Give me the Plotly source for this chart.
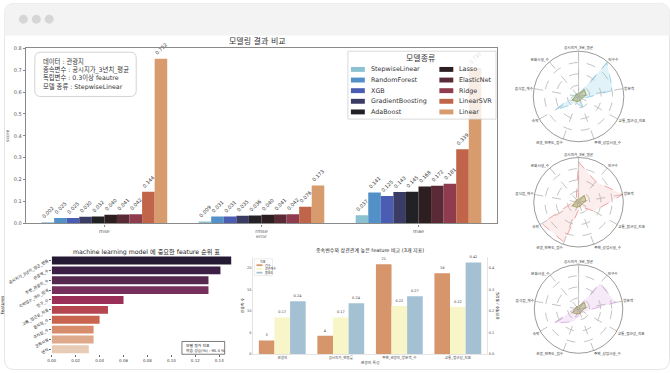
import plotly.graph_objects as go

W, H = 670, 373

# ---------------- data ----------------
models = ["StepwiseLinear", "RandomForest", "XGB", "GradientBoosting", "AdaBoost",
          "Lasso", "ElasticNet", "Ridge", "LinearSVR", "Linear"]
metrics = ["mse", "rmse", "mae"]
mse_vals = [0.002, 0.025, 0.025, 0.030, 0.032, 0.040, 0.041, 0.042, 0.144, 0.752]
rmse_vals = [0.009, 0.031, 0.031, 0.035, 0.036, 0.040, 0.041, 0.042, 0.076, 0.173]
mae_vals = [0.037, 0.141, 0.125, 0.143, 0.145, 0.168, 0.172, 0.181, 0.339, 0.710]
model_colors = ["#8bc1d0", "#5390c8", "#4b5db2", "#3b3c66", "#222226",
                "#2d1e22", "#5a2a36", "#8f3c4f", "#c0654a", "#d89b6e"]
score_ticks = [0.0, 0.1, 0.2, 0.3, 0.4, 0.5, 0.6, 0.7, 0.8]

info_lines = ["데이터 : 관광지", "종속변수 : 공시지가_3년치_평균",
              "독립변수 : 0.3이상 feautre", "모델 종류 : StepwiseLinear"]

features = ["공시지가_3년치_평균_변동", "관광객_수", "주변_관광지_수", "숙박업소_개수_합계",
            "인구_수", "교통_접근성_지표", "음식점_수", "주차장_수", "문화시설", "면적"]
importances = [0.150, 0.141, 0.131, 0.131, 0.060, 0.047, 0.040, 0.035, 0.035, 0.031]
feat_colors = ["#241a33", "#3b1f45", "#55284f", "#76305c", "#9a3058",
               "#b5454f", "#c9654f", "#d78c6b", "#dfa98c", "#e7cbb5"]
imp_ticks = [0.00, 0.02, 0.04, 0.06, 0.08, 0.10, 0.12, 0.14]

cmp_categories = ["관광지", "공시지가_변동률", "주변_관광지_방문객_수", "교통_접근성_지표"]
cmp_series = ["건수", "상관계수", "중요도"]
cmp_count = [3.2, 4.3, 20.8, 18.7]
cmp_corr = [0.170, 0.170, 0.223, 0.218]
cmp_imp = [0.245, 0.236, 0.268, 0.424]
cmp_colors = ["#d6956a", "#f8f5c8", "#a3c1d3"]

radar_axes = ["공시지가_3년_평균", "인구수", "방문객", "교통_접근성_지표", "주변_상업시설_수",
              "관광_만족도_점수", "숙박", "음식점_개수", "문화시설_수"]
radar_base = [0.06, 0.20, 0.17, 0.08, 0.10, 0.12, 0.16, 0.07, 0.07]
radar_blue = [0.05, 0.97, 0.77, 0.10, 0.25, 0.15, 0.62, 0.10, 0.08]
radar_red = [0.90, 0.60, 1.00, 0.40, 0.10, 0.95, 0.95, 0.10, 0.08]
radar_purple = [0.05, 0.75, 0.85, 0.12, 0.10, 0.30, 0.65, 0.08, 0.06]

FONT = "DejaVu Sans, Noto Sans CJK KR, sans-serif"
TXT = "#333333"


def X(px):
    return px / W


def Y(py):
    return 1 - py / H


def rrect(x0, y0, x1, y1, r, top_only=False):
    rb = 0 if top_only else r
    return (f"M {X(x0 + r)},{Y(y0)} L {X(x1 - r)},{Y(y0)} Q {X(x1)},{Y(y0)} {X(x1)},{Y(y0 + r)} "
            f"L {X(x1)},{Y(y1 - rb)} Q {X(x1)},{Y(y1)} {X(x1 - rb)},{Y(y1)} "
            f"L {X(x0 + rb)},{Y(y1)} Q {X(x0)},{Y(y1)} {X(x0)},{Y(y1 - rb)} "
            f"L {X(x0)},{Y(y0 + r)} Q {X(x0)},{Y(y0)} {X(x0 + r)},{Y(y0)} Z")


def note(px, py, text, size, xanchor="center", color=TXT, align="left"):
    return dict(x=X(px), y=Y(py), xref="paper", yref="paper", xanchor=xanchor, yanchor="middle",
                align=align, showarrow=False, text=text,
                font=dict(size=size, color=color, family=FONT))


fig = go.Figure()
shapes = []
annos = []

# ---------------- main grouped bar chart ----------------
for i, m in enumerate(models):
    vals = [mse_vals[i], rmse_vals[i], mae_vals[i]]
    fig.add_trace(go.Bar(
        x=metrics, y=vals, name=m, marker=dict(color=model_colors[i], line=dict(width=0)),
        texttemplate="%{y:.3f}", textposition="outside", textangle=-45,
        textfont=dict(size=5, color=TXT), cliponaxis=False, constraintext="none",
        xaxis="x", yaxis="y", showlegend=False, offsetgroup=str(i)))

# ---------------- horizontal importance bars ----------------
fig.add_trace(go.Bar(
    x=importances, y=features, orientation="h", marker=dict(color=feat_colors, line=dict(width=0)),
    xaxis="x2", yaxis="y2", showlegend=False))

# ---------------- comparison bars (twin axes) ----------------
fig.add_trace(go.Bar(x=cmp_categories, y=cmp_count, name=cmp_series[0],
                     marker=dict(color=cmp_colors[0], line=dict(width=0)),
                     texttemplate="%{y:.0f}", textposition="outside",
                     textfont=dict(size=3.5, color=TXT), cliponaxis=False,
                     xaxis="x3", yaxis="y3", offsetgroup="a", alignmentgroup="cmp", showlegend=False))
fig.add_trace(go.Bar(x=cmp_categories, y=cmp_corr, name=cmp_series[1],
                     marker=dict(color=cmp_colors[1], line=dict(width=0)),
                     texttemplate="%{y:.2f}", textposition="outside",
                     textfont=dict(size=3.5, color=TXT), cliponaxis=False,
                     xaxis="x3", yaxis="y4", offsetgroup="b", alignmentgroup="cmp", showlegend=False))
fig.add_trace(go.Bar(x=cmp_categories, y=cmp_imp, name=cmp_series[2],
                     marker=dict(color=cmp_colors[2], line=dict(width=0)),
                     texttemplate="%{y:.2f}", textposition="outside",
                     textfont=dict(size=3.5, color=TXT), cliponaxis=False,
                     xaxis="x3", yaxis="y4", offsetgroup="c", alignmentgroup="cmp", showlegend=False))

# ---------------- radars ----------------
theta = radar_axes + radar_axes[:1]
radar_specs = [("polar", radar_blue, "#87cbe8", "rgba(135,203,232,0.25)"),
               ("polar2", radar_red, "#ef8a8a", "rgba(239,138,138,0.15)"),
               ("polar3", radar_purple, "#d7a0e4", "rgba(215,160,228,0.22)")]
for sub, vals, lc, fc in radar_specs:
    fig.add_trace(go.Scatterpolar(r=vals + vals[:1], theta=theta, subplot=sub, fill="toself",
                                  fillcolor=fc, line=dict(color=lc, width=0.8, dash="dash"),
                                  mode="lines", showlegend=False))
    fig.add_trace(go.Scatterpolar(r=radar_base + radar_base[:1], theta=theta, subplot=sub,
                                  fill="toself", fillcolor="rgba(140,140,60,0.35)",
                                  line=dict(color="#9b9b45", width=0.8),
                                  mode="lines", showlegend=False))

# ---------------- frame ----------------
shapes.append(dict(type="path", path=rrect(0.5, 0.5, W - 0.5, H - 0.5, 10), xref="paper", yref="paper",
                   line=dict(color="#e6e6e6", width=1), fillcolor="white", layer="below"))
shapes.append(dict(type="path", path=rrect(0.5, 0.5, W - 0.5, 33, 10, top_only=True), xref="paper",
                   yref="paper", line=dict(width=0), fillcolor="#f3f3f3", layer="below"))
for cx in (19.5, 32.5, 45.5):
    shapes.append(dict(type="circle", xref="paper", yref="paper",
                       x0=X(cx - 4.5), x1=X(cx + 4.5), y0=Y(16.5 + 4.5), y1=Y(16.5 - 4.5),
                       fillcolor="#d6d6d6", line=dict(width=0), layer="below"))

# info box
shapes.append(dict(type="path", path=rrect(31, 50, 133, 95, 6), xref="paper", yref="paper",
                   line=dict(color="#c8c8c8", width=0.8), fillcolor="rgba(255,255,255,0.9)", layer="above"))
annos.append(note(37, 72.5, "<br>".join(info_lines), 6.3, xanchor="left"))

# model legend
shapes.append(dict(type="rect", xref="paper", yref="paper", x0=X(346), x1=X(495), y0=Y(118), y1=Y(49),
                   line=dict(color="#d0d0d0", width=0.8), fillcolor="rgba(255,255,255,0.82)", layer="above"))
annos.append(note(419, 56, "모델종류", 8))
for i, m in enumerate(models):
    col, row = divmod(i, 5)
    sx = 349 if col == 0 else 438
    ry = 67.5 + row * 10.8
    shapes.append(dict(type="rect", xref="paper", yref="paper", x0=X(sx), x1=X(sx + 14),
                       y0=Y(ry + 2.5), y1=Y(ry - 2.5), fillcolor=model_colors[i],
                       line=dict(width=0), layer="above"))
    annos.append(note(sx + 18, ry, m, 6.4, xanchor="left"))

# titles
annos.append(note(255, 38.5, "모델링 결과 비교", 8))
annos.append(note(143, 253, "machine learning model 에 중요한 feature 순위 표", 6.2, color="#222"))
annos.append(note(368, 252, "종속변수와 상관관계 높은 feature 비교 (3개 지표)", 5, color="#222"))

# importance note box
shapes.append(dict(type="rect", xref="paper", yref="paper", x0=X(179), x1=X(222), y0=Y(357), y1=Y(344),
                   line=dict(color="#222", width=0.6), fillcolor="white", layer="above"))
annos.append(note(181, 350.5, "모델 평가 지표<br>학습 성능(%) : 95.4 %", 3.8, xanchor="left", color="#222"))

# comparison legend
shapes.append(dict(type="rect", xref="paper", yref="paper", x0=X(252), x1=X(270), y0=Y(277), y1=Y(260),
                   line=dict(color="#d8d8d8", width=0.5), fillcolor="white", layer="above"))
annos.append(note(261, 262.5, "지표", 3))
for i, s in enumerate(cmp_series):
    ry = 266.5 + i * 3.8
    shapes.append(dict(type="rect", xref="paper", yref="paper", x0=X(254), x1=X(260),
                       y0=Y(ry + 0.9), y1=Y(ry - 0.9), fillcolor=cmp_colors[i],
                       line=dict(width=0), layer="above"))
    annos.append(note(261, ry, s, 3, xanchor="left"))

# ---------------- axes ----------------
ax_font = dict(size=5, color="#555", family=FONT)
polar_common = dict(
    bgcolor="white",
    radialaxis=dict(range=[0, 1], showticklabels=False, ticks="", tickvals=[0.25, 0.5, 0.75, 1.0],
                    gridcolor="#c4c4c4", griddash="dash", gridwidth=0.6, showline=True,
                    linecolor="#bdbdbd", linewidth=0.8, angle=90),
    angularaxis=dict(rotation=90, direction="clockwise", tickfont=dict(size=3.6, color=TXT, family=FONT),
                     gridcolor="#c4c4c4", griddash="dash", gridwidth=0.6, linecolor="#555",
                     linewidth=0.6, ticks=""),
)

fig.update_layout(
    width=W, height=H, margin=dict(l=0, r=0, t=0, b=0), autosize=False,
    paper_bgcolor="white", plot_bgcolor="white",
    font=dict(family=FONT, color=TXT),
    barmode="group", bargap=0.2, bargroupgap=0,
    xaxis=dict(domain=[X(22), X(496)], anchor="y", showline=True, mirror=True, linecolor="#8a8a8a",
               linewidth=1.3, ticks="outside", ticklen=2, tickcolor="#888", tickfont=ax_font,
               title=dict(text="error", font=dict(size=4.5, color="#555"), standoff=2),
               showgrid=False, range=[-0.5, 2.5]),
    yaxis=dict(domain=[Y(224), Y(46)], anchor="x", range=[0, 0.8], tickvals=score_ticks,
               tickformat=".1f", showline=True, mirror=True, linecolor="#8a8a8a", linewidth=1.3,
               ticks="outside", ticklen=2, tickcolor="#888", tickfont=ax_font, showgrid=False,
               zeroline=False, title=dict(text="score", font=dict(size=4.5, color="#555"), standoff=4)),
    xaxis2=dict(domain=[X(48), X(237)], anchor="y2", range=[0, 0.157], tickvals=imp_ticks,
                tickformat=".2f", tickfont=dict(size=4, color="#444"), showgrid=False,
                zeroline=False, showline=False, ticks="outside", ticklen=2, tickcolor="#666"),
    yaxis2=dict(domain=[Y(357), Y(256.7)], anchor="x2", range=[9.5, -0.5], tickangle=-30,
                tickfont=dict(size=4, color="#222"), showgrid=False, showline=False,
                ticks="outside", ticklen=2, tickcolor="#666",
                title=dict(text="features", font=dict(size=4.5, color="#222"), standoff=2)),
    xaxis3=dict(domain=[X(250.5), X(486)], anchor="y3", range=[-0.5, 3.5],
                tickfont=dict(size=3.5, color="#444"), showgrid=False, showline=True,
                linecolor="#e4e4e4", linewidth=0.8, ticks="",
                title=dict(text="관광지 특성", font=dict(size=3.8, color="#444"), standoff=1)),
    yaxis3=dict(domain=[Y(357), Y(258)], anchor="x3", range=[0, 22.5], dtick=5,
                tickfont=dict(size=3.5, color="#444"), showgrid=False, showline=True,
                linecolor="#e4e4e4", linewidth=0.8, zeroline=False, ticks="",
                title=dict(text="관광객 수", font=dict(size=3.8, color="#222"), standoff=2)),
    yaxis4=dict(overlaying="y3", side="right", anchor="x3", range=[0, 0.45], dtick=0.1,
                tickformat=".1f", tickfont=dict(size=3.5, color="#444"), showgrid=False,
                showline=True, linecolor="#e4e4e4", linewidth=0.8, zeroline=False, ticks="",
                title=dict(text="상관계수 / 중요도", font=dict(size=3.8, color="#222"), standoff=2)),
    polar=dict(domain=dict(x=[X(532), X(624)], y=[Y(141), Y(49)]), **polar_common),
    polar2=dict(domain=dict(x=[X(532), X(624)], y=[Y(248), Y(157)]), **polar_common),
    polar3=dict(domain=dict(x=[X(532), X(624)], y=[Y(356), Y(266)]), **polar_common),
    shapes=shapes, annotations=annos,
)

fig.write_html("out.html", config={"displayModeBar": False},
               post_script="document.body.style.margin='0';document.body.style.overflow='hidden';")
